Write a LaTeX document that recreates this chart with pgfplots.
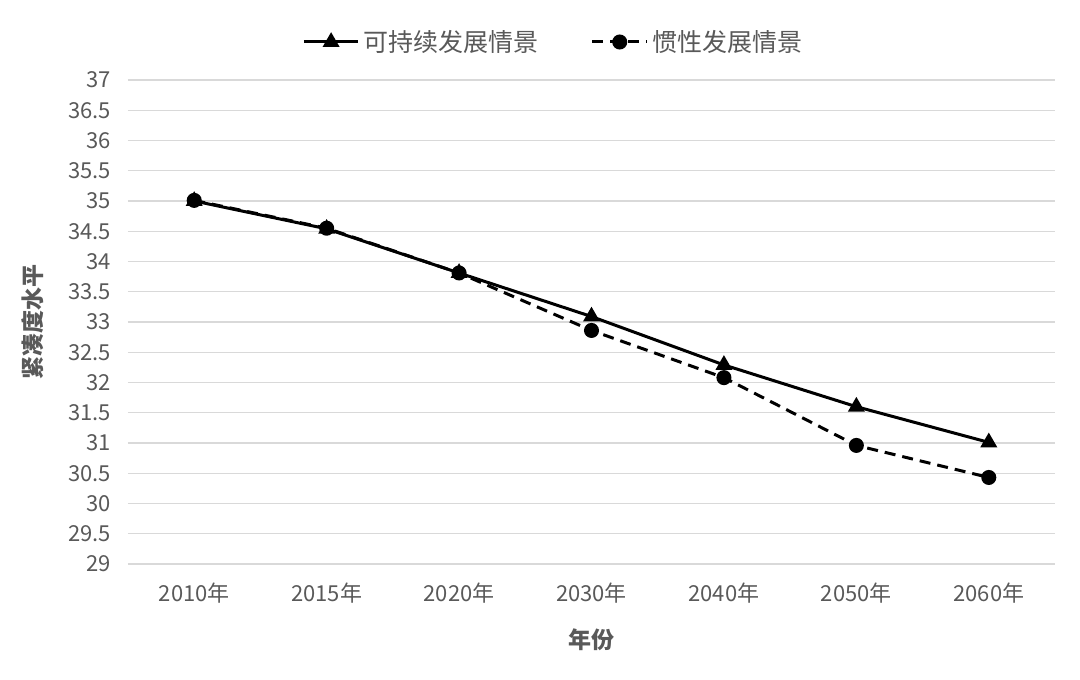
\documentclass[border=0pt]{standalone}
\usepackage{pgfplots}
\pgfplotsset{compat=1.18}
\usepackage{fontspec}
\setmainfont{Noto Sans CJK SC}
\definecolor{gridgray}{HTML}{D9D9D9}
\definecolor{txtgray}{HTML}{595959}

\begin{document}
\begin{tikzpicture}
  \begin{axis}[
    name=ax,
    scale only axis,
    width=463.5pt, height=242pt,
    xmin=-0.5, xmax=6.5,
    ymin=29, ymax=37,
    xtick={0,...,6},
    xticklabels={2010年,2015年,2020年,2030年,2040年,2050年,2060年},
    ytick={29,29.5,...,37},
    /pgf/number format/assume math mode=true,
    yticklabel style={/pgf/number format/fixed, /pgf/number format/precision=1},
    tick label style={font=\fontsize{11}{13}\selectfont, text=txtgray},
    xticklabel style={yshift=-6pt},
    yticklabel style={xshift=-5pt},
    major tick length=0pt,
    axis x line*=bottom,
    axis y line*=left,
    y axis line style={draw=none},
    x axis line style={gridgray, line width=0.6pt, -},
    ymajorgrids,
    grid style={gridgray, line width=0.6pt},
    xlabel={\textbf{年份}},
    ylabel={\textbf{紧凑度水平}},
    label style={font=\fontsize{11.5}{13}\selectfont, text=txtgray},
    xlabel style={at={(axis description cs:0.5,0)}, yshift=-38pt, anchor=center},
    ylabel style={at={(axis description cs:0,0.5)}, yshift=47.5pt, anchor=center},
    legend columns=2,
    legend style={draw=none, at={(0.46,1)}, yshift=19pt, anchor=center,
      font=\fontsize{12.5}{14}\selectfont, text=txtgray,
      /tikz/every even column/.append style={column sep=24pt}},
    legend image code/.code={
      \draw[#1, mark repeat=2, mark phase=2] plot coordinates {(0cm,0cm) (0.48cm,0cm) (0.96cm,0cm)};
    },
  ]
    \addplot[black, line width=1.5pt, mark=triangle*, mark size=3.4pt,
      mark options={solid}] coordinates {
      (0,35.0) (1,34.54) (2,33.81) (3,33.09) (4,32.29) (5,31.60) (6,31.01)
    };
    \addlegendentry{可持续发展情景}
    \addplot[black, line width=1.5pt, dash pattern=on 5.5pt off 3.5pt,
      mark=*, mark size=3pt, mark options={solid}] coordinates {
      (0,35.01) (1,34.55) (2,33.81) (3,32.86) (4,32.08) (5,30.96) (6,30.43)
    };
    \addlegendentry{惯性发展情景}
  \end{axis}
  \path[use as bounding box] ([xshift=-64pt, yshift=-58pt]ax.south west)
    rectangle ([xshift=12.5pt, yshift=40pt]ax.north east);
\end{tikzpicture}
\end{document}
